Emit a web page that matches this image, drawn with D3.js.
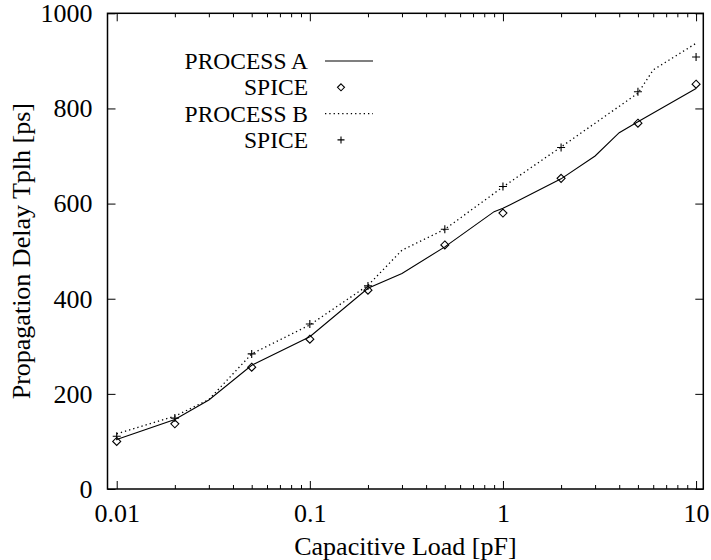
<!DOCTYPE html>
<html>
<head>
<meta charset="utf-8">
<script src="https://cdn.jsdelivr.net/npm/d3@7"></script>
<style>
    body { margin: 0; background: #fff; }
    text { font-family: "Liberation Serif", "Times New Roman", serif; }
</style>
</head>
<body>
<div id="chart"></div>
<script>
// Propagation delay vs capacitive load (log x)

const loadA = [0.01, 0.02, 0.03, 0.05, 0.1, 0.2, 0.3, 0.5, 0.9, 1, 2, 3, 4, 5, 10];
const delayA = [104, 146, 187, 260, 320, 422, 453, 509, 583, 590, 652, 700, 749, 772, 842];

const loadB = [0.01, 0.02, 0.03, 0.05, 0.1, 0.2, 0.3, 0.5, 1, 2, 5, 6, 10];
const delayB = [116, 153, 188, 284, 345, 428, 502, 546, 635, 719, 832, 881, 937];

const spiceLoad = [0.01, 0.02, 0.05, 0.1, 0.2, 0.5, 1, 2, 5, 10];
const spiceA = [100, 137, 256, 315, 418, 513, 580, 653, 769, 851];
const spiceB = [111, 149, 284, 347, 427, 546, 636, 718, 835, 908];

const xMajor = [0.01, 0.1, 1, 10];
const xMajorLabels = ['0.01', '0.1', '1', '10'];
const yTicks = [0, 200, 400, 600, 800, 1000];

const legendLabels = ['PROCESS A', 'SPICE', 'PROCESS B', 'SPICE'];

function drawChart() {
    const width = 711;
    const height = 560;
    const left = 107.5, right = 703.3, top = 13.3, bottom = 489;

    const svg = d3.select('#chart').append('svg')
        .attr('width', width)
        .attr('height', height);

    const x = d3.scaleLog().domain([0.00896, 10.9]).range([left, right]);
    const y = d3.scaleLinear().domain([0, 1000]).range([bottom, top]);

    // minor ticks 2..9 of each decade
    const xMinor = [];
    [0.01, 0.1, 1].forEach(d => {
        for (let k = 2; k <= 9; k++) xMinor.push(+(d * k).toPrecision(3));
    });

    const fontSize = '26px';

    // bottom axis with labels
    const bottomAxis = svg.append('g')
        .attr('transform', `translate(0,${bottom})`)
        .call(d3.axisBottom(x)
            .tickValues(xMajor)
            .tickFormat((d, i) => xMajorLabels[i])
            .tickSizeInner(-8)
            .tickSizeOuter(0)
            .tickPadding(15));
    svg.append('g')
        .attr('transform', `translate(0,${bottom})`)
        .call(d3.axisBottom(x).tickValues(xMinor).tickFormat('').tickSizeInner(-4).tickSizeOuter(0));

    // top mirror
    svg.append('g')
        .attr('transform', `translate(0,${top})`)
        .call(d3.axisTop(x).tickValues(xMajor).tickFormat('').tickSizeInner(-8).tickSizeOuter(0));
    svg.append('g')
        .attr('transform', `translate(0,${top})`)
        .call(d3.axisTop(x).tickValues(xMinor).tickFormat('').tickSizeInner(-4).tickSizeOuter(0));

    // left axis with labels
    const leftAxis = svg.append('g')
        .attr('transform', `translate(${left},0)`)
        .call(d3.axisLeft(y)
            .tickValues(yTicks)
            .tickFormat(d3.format('d'))
            .tickSizeInner(-8)
            .tickSizeOuter(0)
            .tickPadding(15));

    // right mirror
    svg.append('g')
        .attr('transform', `translate(${right},0)`)
        .call(d3.axisRight(y).tickValues(yTicks).tickFormat('').tickSizeInner(-8).tickSizeOuter(0));

    svg.selectAll('.domain').remove();
    svg.selectAll('.tick line').attr('stroke', '#000').attr('stroke-width', 1);
    [bottomAxis, leftAxis].forEach(g => g.selectAll('text')
        .attr('font-family', '"Liberation Serif", serif')
        .attr('font-size', fontSize)
        .attr('fill', '#000'));

    // frame
    svg.append('rect')
        .attr('x', left)
        .attr('y', top)
        .attr('width', right - left)
        .attr('height', bottom - top)
        .attr('fill', 'none')
        .attr('stroke', '#000')
        .attr('stroke-width', 1.5);

    const line = d3.line()
        .x(d => x(d[0]))
        .y(d => y(d[1]));

    svg.append('path')
        .datum(loadA.map((d, i) => [d, delayA[i]]))
        .attr('d', line)
        .attr('fill', 'none')
        .attr('stroke', '#000')
        .attr('stroke-width', 1.1);

    svg.append('path')
        .datum(loadB.map((d, i) => [d, delayB[i]]))
        .attr('d', line)
        .attr('fill', 'none')
        .attr('stroke', '#000')
        .attr('stroke-width', 1.3)
        .attr('stroke-dasharray', '1.3,3');

    const diamond = r => `M0,${-r}L${r},0L0,${r}L${-r},0Z`;
    const plus = r => `M${-r},0H${r}M0,${-r}V${r}`;

    svg.append('g').selectAll('path')
        .data(spiceLoad.map((d, i) => [d, spiceA[i]]))
        .enter()
        .append('path')
        .attr('transform', d => `translate(${x(d[0])},${y(d[1])})`)
        .attr('d', diamond(4))
        .attr('fill', 'none')
        .attr('stroke', '#000')
        .attr('stroke-width', 1.1);

    svg.append('g').selectAll('path')
        .data(spiceLoad.map((d, i) => [d, spiceB[i]]))
        .enter()
        .append('path')
        .attr('transform', d => `translate(${x(d[0])},${y(d[1])})`)
        .attr('d', plus(4))
        .attr('fill', 'none')
        .attr('stroke', '#000')
        .attr('stroke-width', 1.1);

    // legend
    const legend = svg.append('g');
    const rowY = i => 61 + i * 26.3;
    legend.selectAll('text')
        .data(legendLabels)
        .enter()
        .append('text')
        .attr('x', 308)
        .attr('y', (d, i) => rowY(i))
        .attr('dy', '0.34em')
        .attr('text-anchor', 'end')
        .attr('font-size', '23.5px')
        .attr('fill', '#000')
        .text(d => d);

    legend.append('line')
        .attr('x1', 325).attr('x2', 373)
        .attr('y1', rowY(0)).attr('y2', rowY(0))
        .attr('stroke', '#000').attr('stroke-width', 1.1);
    legend.append('path')
        .attr('transform', `translate(341,${rowY(1)})`)
        .attr('d', diamond(3.5))
        .attr('fill', 'none').attr('stroke', '#000').attr('stroke-width', 1.1);
    legend.append('line')
        .attr('x1', 325).attr('x2', 373)
        .attr('y1', rowY(2)).attr('y2', rowY(2))
        .attr('stroke', '#000').attr('stroke-width', 1.3)
        .attr('stroke-dasharray', '1.3,3');
    legend.append('path')
        .attr('transform', `translate(341,${rowY(3)})`)
        .attr('d', plus(3.5))
        .attr('fill', 'none').attr('stroke', '#000').attr('stroke-width', 1.1);

    // axis titles
    svg.append('text')
        .attr('x', (left + right) / 2)
        .attr('y', 555)
        .attr('text-anchor', 'middle')
        .attr('font-size', fontSize)
        .attr('fill', '#000')
        .text('Capacitive Load [pF]');

    svg.append('text')
        .attr('transform', `translate(30,${(top + bottom) / 2}) rotate(-90)`)
        .attr('text-anchor', 'middle')
        .attr('font-size', fontSize)
        .attr('fill', '#000')
        .text('Propagation Delay Tplh [ps]');
}

drawChart();
</script>
</body>
</html>
